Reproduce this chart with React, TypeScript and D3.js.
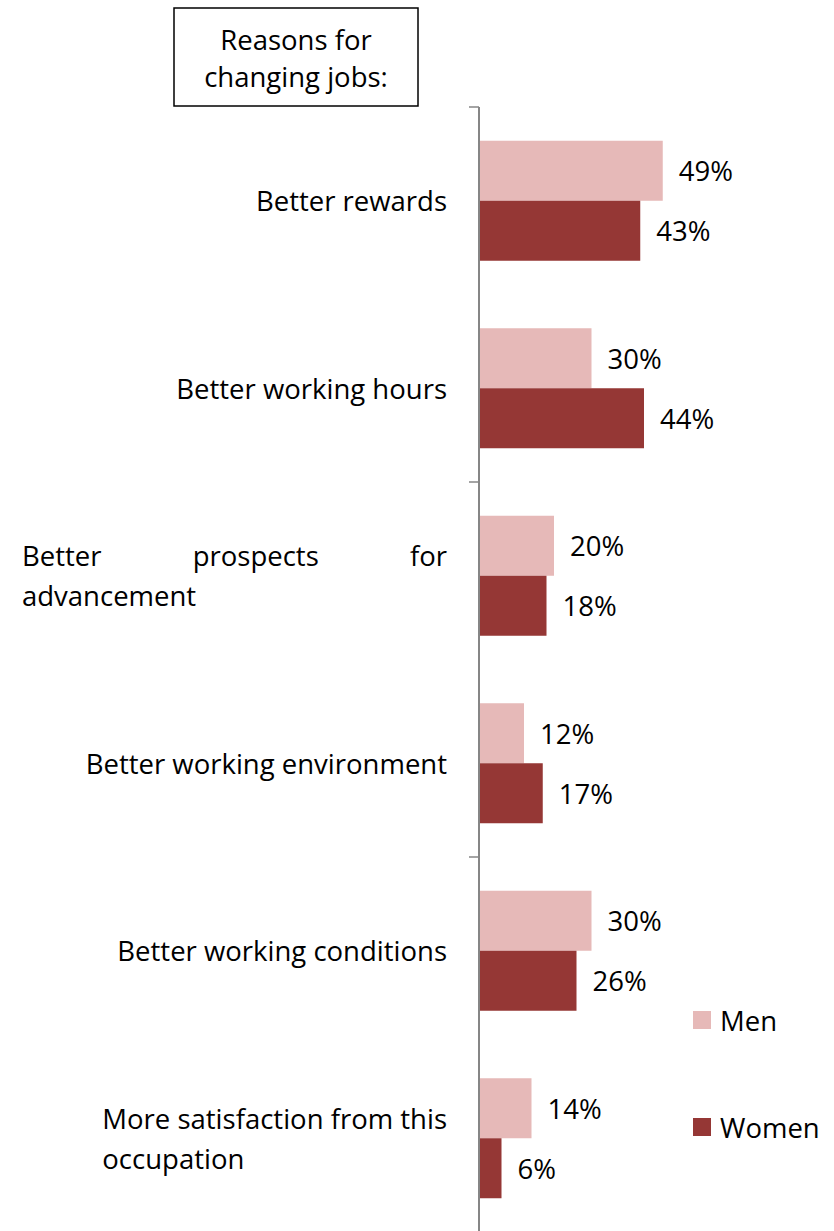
import React, { useEffect, useRef } from 'react'
import * as d3 from 'd3'

const categories = [
  'Better rewards',
  'Better working hours',
  'Better prospects for advancement',
  'Better working environment',
  'Better working conditions',
  'More satisfaction from this occupation',
]
const labelLines: string[][] = [
  ['Better rewards'],
  ['Better working hours'],
  ['Better prospects for', 'advancement'],
  ['Better working environment'],
  ['Better working conditions'],
  ['More satisfaction from this', 'occupation'],
]
const justifiedFirstLine = [false, false, true, false, false, false]
const series = ['Men', 'Women']
const men = [49, 30, 20, 12, 30, 14]
const women = [43, 44, 18, 17, 26, 6]
const titleLines = ['Reasons for', 'changing jobs:']

const colors: Record<string, string> = { Men: '#E6B9B8', Women: '#953735' }
const FONT = '"Open Sans", Lato, sans-serif'

const App: React.FC = () => {
  const ref = useRef<SVGSVGElement>(null)

  useEffect(() => {
    const svg = d3.select(ref.current)
    svg.selectAll('*').remove()

    const axisX = 479
    const labelRight = 447
    const labelLeft = 22
    const fontSize = 27.5

    const y = d3.scaleBand<string>().domain(categories).range([107, 1232]).padding(0)
    const ySub = d3.scaleBand<string>().domain(series).range([0, y.bandwidth()]).paddingInner(0).paddingOuter(0.5625)
    const x = d3.scaleLinear().domain([0, 100]).range([0, 375])

    // title box
    const title = svg.append('g')
    title.append('rect')
      .attr('x', 174).attr('y', 8).attr('width', 244).attr('height', 98)
      .attr('fill', 'white').attr('stroke', 'black').attr('stroke-width', 1.5)
    titleLines.forEach((t, i) => {
      title.append('text')
        .attr('x', 296).attr('y', 39 + i * 37)
        .attr('text-anchor', 'middle').attr('dominant-baseline', 'central')
        .attr('font-family', FONT).attr('font-size', fontSize).attr('fill', 'black')
        .text(t)
    })

    // bars
    const rows = categories.map((c, i) => ({ cat: c, values: [men[i], women[i]] }))
    rows.forEach((row) => {
      series.forEach((s, si) => {
        const v = row.values[si]
        const by = (y(row.cat) as number) + (ySub(s) as number)
        svg.append('rect')
          .attr('x', axisX).attr('y', by)
          .attr('width', x(v)).attr('height', ySub.bandwidth())
          .attr('fill', colors[s])
        svg.append('text')
          .attr('x', axisX + x(v) + 16).attr('y', by + ySub.bandwidth() / 2)
          .attr('dominant-baseline', 'central')
          .attr('font-family', FONT).attr('font-size', fontSize).attr('fill', 'black')
          .text(`${v}%`)
      })
    })

    // axis line and ticks
    svg.append('line')
      .attr('x1', axisX).attr('x2', axisX).attr('y1', 107).attr('y2', 1232)
      .attr('stroke', '#868686').attr('stroke-width', 2)
    const tickYs = categories.filter((_, i) => i % 2 === 0).map((c) => y(c) as number).concat([1232])
    tickYs.forEach((ty) => {
      svg.append('line')
        .attr('x1', axisX - 10).attr('x2', axisX).attr('y1', ty).attr('y2', ty)
        .attr('stroke', '#868686').attr('stroke-width', 1.5)
    })

    // category labels
    labelLines.forEach((lines, i) => {
      const cy = (y(categories[i]) as number) + y.bandwidth() / 2
      const lh = 40
      const top = cy - ((lines.length - 1) * lh) / 2
      const g = svg.append('g')
        .attr('font-family', FONT).attr('font-size', fontSize).attr('fill', 'black')
      if (lines.length === 1) {
        g.append('text').attr('x', labelRight).attr('y', cy)
          .attr('text-anchor', 'end').attr('dominant-baseline', 'central').text(lines[0])
        return
      }
      let startX = labelLeft
      if (justifiedFirstLine[i]) {
        const words = lines[0].split(' ')
        const nodes = words.map((w) =>
          g.append('text').attr('y', top).attr('dominant-baseline', 'central').text(w))
        const widths = nodes.map((n) => (n.node() as SVGTextElement).getComputedTextLength())
        const gap = (labelRight - labelLeft - d3.sum(widths)) / (words.length - 1)
        let cx = labelLeft
        nodes.forEach((n, k) => {
          n.attr('x', cx)
          cx += widths[k] + gap
        })
      } else {
        const first = g.append('text').attr('x', labelRight).attr('y', top)
          .attr('text-anchor', 'end').attr('dominant-baseline', 'central').text(lines[0])
        startX = labelRight - (first.node() as SVGTextElement).getComputedTextLength()
      }
      lines.slice(1).forEach((l, k) => {
        g.append('text').attr('x', startX).attr('y', top + (k + 1) * lh)
          .attr('dominant-baseline', 'central').text(l)
      })
    })

    // legend
    const legendYs = [1020, 1127]
    series.forEach((s, i) => {
      svg.append('rect')
        .attr('x', 693).attr('y', legendYs[i] - 9).attr('width', 18).attr('height', 18)
        .attr('fill', colors[s])
      svg.append('text')
        .attr('x', 720).attr('y', legendYs[i])
        .attr('dominant-baseline', 'central')
        .attr('font-family', FONT).attr('font-size', fontSize).attr('fill', 'black')
        .text(s)
    })
  }, [])

  return (
    <svg
      ref={ref}
      width={834}
      height={1231}
      style={{ position: 'absolute', left: 0, top: 0, background: 'white' }}
    />
  )
}

export default App
